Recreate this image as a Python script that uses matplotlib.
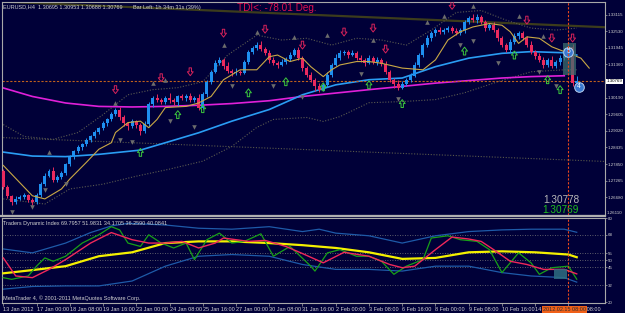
import numpy as np
import matplotlib.pyplot as plt
from matplotlib.path import Path
from matplotlib.lines import Line2D

plt.rcParams['font.family'] = ['Liberation Sans Narrow', 'Liberation Sans', 'DejaVu Sans']

# ---------------- price data, EURUSD H4 ----------------
first_open = 1.2760
closes = [1.2704, 1.2672, 1.2651, 1.2662, 1.2669, 1.2676, 1.2658, 1.2651, 1.2676, 1.2715,
          1.2743, 1.2760, 1.2729, 1.2739, 1.2753, 1.2784, 1.2809, 1.2830, 1.2844, 1.2854,
          1.2868, 1.2882, 1.2897, 1.2911, 1.2928, 1.2942, 1.2960, 1.2974, 1.2949, 1.2928,
          1.2918, 1.2935, 1.2921, 1.2900, 1.2925, 1.2995, 1.3019, 1.3012, 1.3002, 1.3016,
          1.3009, 1.3002, 1.3023, 1.3016, 1.3026, 1.3012, 1.3019, 1.2984, 1.3030, 1.3075,
          1.3110, 1.3142, 1.3152, 1.3131, 1.3114, 1.3107, 1.3110, 1.3107, 1.3145, 1.3180,
          1.3194, 1.3205, 1.3191, 1.3177, 1.3152, 1.3142, 1.3135, 1.3145, 1.3156, 1.3170,
          1.3187, 1.3159, 1.3124, 1.3100, 1.3082, 1.3061, 1.3047, 1.3065, 1.3100, 1.3135,
          1.3159, 1.3177, 1.3180, 1.3170, 1.3177, 1.3159, 1.3152, 1.3142, 1.3159, 1.3145,
          1.3152, 1.3138, 1.3110, 1.3082, 1.3068, 1.3054, 1.3068, 1.3082, 1.3096, 1.3135,
          1.3170, 1.3205, 1.3229, 1.3247, 1.3257, 1.3250, 1.3257, 1.3264, 1.3254, 1.3247,
          1.3257, 1.3285, 1.3299, 1.3292, 1.3302, 1.3285, 1.3264, 1.3274, 1.3257, 1.3229,
          1.3205, 1.3187, 1.3215, 1.3236, 1.3247, 1.3229, 1.3205, 1.3180, 1.3166, 1.3152,
          1.3135, 1.3152, 1.3131, 1.3145, 1.3159, 1.3187, 1.3197, 1.30695, 1.30769]
upper_wick = [6, 8, 5, 9, 6, 7, 5, 8, 6, 5,
              10, 8, 14, 6, 7, 5, 9, 6, 8, 5,
              7, 6, 9, 5, 8, 6, 10, 7, 12, 8,
              6, 10, 5, 8, 12, 9, 6, 12, 7, 9,
              18, 8, 6, 10, 7, 9, 6, 12, 8, 7,
              6, 9, 10, 8, 12, 6, 14, 7, 5, 8,
              6, 10, 12, 7, 8, 9, 6, 11, 7, 8,
              6, 10, 8, 7, 9, 5, 8, 6, 10, 7,
              12, 9, 8, 7, 10, 6, 9, 8, 11, 7,
              9, 6, 10, 8, 7, 12, 9, 6, 8, 10,
              7, 6, 12, 8, 9, 10, 7, 8, 6, 12,
              9, 7, 8, 15, 10, 8, 6, 9, 11, 7,
              8, 6, 10, 9, 7, 8, 6, 12, 8, 9,
              10, 7, 12, 8, 9, 6, 18, 10, 18]
lower_wick = [8, 6, 10, 7, 5, 9, 6, 12, 7, 6,
              8, 5, 9, 7, 6, 8, 5, 7, 6, 9,
              5, 7, 6, 8, 5, 9, 6, 7, 8, 10,
              12, 6, 9, 14, 7, 6, 8, 10, 7, 6,
              9, 8, 12, 6, 8, 7, 10, 9, 6, 8,
              7, 6, 8, 10, 9, 12, 7, 8, 6, 7,
              8, 6, 9, 7, 10, 8, 12, 6, 7, 9,
              6, 8, 10, 7, 9, 18, 8, 6, 7, 9,
              6, 8, 7, 10, 6, 9, 8, 12, 6, 7,
              10, 6, 9, 8, 14, 7, 6, 8, 9, 6,
              8, 7, 6, 9, 10, 7, 8, 6, 9, 7,
              8, 10, 6, 7, 9, 8, 10, 7, 8, 12,
              9, 7, 6, 8, 10, 7, 9, 8, 10, 7,
              12, 8, 9, 7, 10, 8, 9, 10, 1]

# moving averages on the price chart (bar index, price)
fast_idx = [0, 7, 10, 14, 16, 20, 23, 26, 27, 30, 33, 35, 37, 39, 44, 47, 50, 53, 57, 61, 64, 66, 69,
            72, 74, 77, 79, 81, 85, 88, 91, 96, 101, 104, 107, 110, 113, 117, 120, 122, 124, 126,
            129, 132, 135, 139, 141]
fast_ma = [1.2780, 1.2673, 1.2662, 1.2697, 1.2732, 1.2791, 1.2837, 1.2860, 1.2896, 1.2931, 1.2936,
           1.2913, 1.2942, 1.2984, 1.2988, 1.3000, 1.3023, 1.3082, 1.3117, 1.3117, 1.3163, 1.3169,
           1.3146, 1.3158, 1.3128, 1.3093, 1.3117, 1.3134, 1.3146, 1.3146, 1.3140, 1.3123, 1.3117,
           1.3152, 1.3222, 1.3251, 1.3268, 1.3280, 1.3274, 1.3251, 1.3210, 1.3233, 1.3228, 1.3198,
           1.3181, 1.3158, 1.3123]
blue_idx = [0, 7, 15, 23, 33, 39, 47, 55, 64, 72, 80, 88, 96, 104, 112, 120, 127, 135, 138]
blue_ma = [1.2827, 1.2813, 1.2811, 1.2819, 1.2834, 1.2860, 1.2895, 1.2936, 1.2977, 1.3029,
           1.3064, 1.3082, 1.3088, 1.3128, 1.3158, 1.3175, 1.3181, 1.3177, 1.3169]
mag_idx = [0, 7, 15, 23, 31, 39, 47, 55, 64, 72, 88, 104, 120, 127, 135]
mag_ma = [1.3053, 1.3023, 1.3000, 1.2988, 1.2986, 1.2988, 1.2992, 1.2998, 1.3008, 1.3023,
          1.3047, 1.3070, 1.3088, 1.3093, 1.3096]
up_band_idx = [0, 5, 12, 18, 24, 30, 36, 42, 48, 54, 61, 67, 73, 79, 85, 91, 97, 103, 109,
               115, 121, 127, 133, 138]
up_band = [1.2924, 1.2882, 1.2872, 1.2896, 1.2959, 1.3029, 1.3047, 1.3054, 1.3075, 1.3169,
           1.3239, 1.3222, 1.3228, 1.3204, 1.3228, 1.3222, 1.3204, 1.3257, 1.3319, 1.3326,
           1.3292, 1.3264, 1.3257, 1.3264]
lo_band_idx = [0, 10, 16, 24, 32, 40, 48, 55, 61, 65, 73, 77, 81, 88, 96, 104, 111, 119,
               127, 135, 138]
lo_band = [1.2662, 1.2644, 1.2697, 1.2714, 1.2742, 1.2767, 1.2795, 1.2847, 1.2914, 1.2942,
           1.2949, 1.2935, 1.2952, 1.3001, 1.3005, 1.3012, 1.3036, 1.3075, 1.3110, 1.3117, 1.3117]
trend_idx = [0, 144.8]
trend_dotted = [1.2878, 1.2794]
trend_solid = [1.3357, 1.3267]

# fractal / signal arrows (bar index, price)
tri_up = [(11, 1.2826), (27, 1.3001), (36, 1.3071), (39, 1.3082), (53, 1.3204), (61, 1.3250),
          (70, 1.3232), (78, 1.3239), (89, 1.3222), (102, 1.3285), (106, 1.3306), (113, 1.3341),
          (124, 1.3306), (130, 1.3236)]
tri_down = [(2, 1.2616), (7, 1.2634), (10, 1.2693), (15, 1.2714), (28, 1.2868), (31, 1.2861),
            (40, 1.2935), (46, 1.2914), (55, 1.3061), (65, 1.3061), (72, 1.3022), (86, 1.3103),
            (95, 1.3015), (110, 1.3204), (113, 1.3218), (119, 1.3141), (129, 1.3110), (133, 1.3061)]
sell_arrows = [(27, 1.3047), (38, 1.3089), (45, 1.3110), (53, 1.3246), (63, 1.3260), (72, 1.3204),
               (82, 1.3250), (89, 1.3264), (92, 1.3190), (108, 1.3344), (126, 1.3292),
               (132, 1.3229), (137, 1.3229)]
buy_arrows = [(33, 1.2826), (42, 1.2959), (48, 1.2980), (59, 1.3036), (68, 1.3075), (77, 1.3057),
              (88, 1.3064), (96, 1.2998), (111, 1.3183), (123, 1.3169), (131, 1.3082), (134, 1.3047)]
wave_labels = [("5", 136, 1.3180), ("4", 138.6, 1.3057)]

# ---------------- Traders Dynamic Index ----------------
tdi_yel_idx = [0, 7, 15, 23, 31, 39, 47, 55, 64, 72, 80, 88, 96, 104, 112, 120, 128, 136, 138]
tdi_yellow = [40.5, 42.8, 45.6, 52.7, 55.5, 62.1, 63.3, 63.3, 62.1, 60.6, 58.6, 55.5, 50.8,
              51.5, 55.5, 56.2, 55.5, 53.9, 52.0]
tdi_red_idx = [0, 3, 7, 11, 15, 21, 26, 31, 35, 39, 43, 47, 51, 53, 59, 63, 68, 72, 77, 82, 88,
               93, 96, 99, 104, 108, 112, 115, 118, 122, 126, 130, 135, 138]
tdi_red = [51.5, 38.6, 37.4, 43.3, 50.3, 62.1, 69.6, 64.5, 62.1, 62.1, 63.3, 58.6, 62.1, 65.7,
           63.3, 64.0, 59.7, 54.6, 48.0, 55.5, 52.7, 46.8, 44.5, 45.6, 57.4, 66.4, 65.0, 63.3,
           57.4, 49.1, 46.8, 43.3, 43.3, 40.1]
tdi_grn_idx = [0, 2, 6, 8, 10, 12, 15, 19, 23, 26, 28, 30, 33, 35, 38, 41, 44, 46, 49, 52, 55,
               58, 62, 65, 69, 74, 75, 78, 81, 85, 88, 91, 94, 97, 101, 103, 107, 110, 114, 117,
               120, 124, 127, 129, 132, 136, 138]
tdi_green = [37.4, 36.2, 38.6, 45.6, 51.5, 49.1, 52.7, 62.1, 68.0, 73.8, 71.5, 62.1, 59.7, 68.0,
             62.1, 58.6, 62.1, 50.3, 64.5, 69.2, 62.1, 63.3, 68.7, 52.7, 59.7, 45.6, 42.1, 55.1,
             57.4, 52.7, 52.7, 49.1, 39.8, 45.6, 50.3, 65.7, 67.3, 64.5, 63.3, 57.4, 41.0, 55.1,
             48.0, 39.8, 44.5, 45.6, 36.3]
tdi_up_idx = [0, 7, 15, 21, 26, 30, 39, 47, 55, 64, 72, 76, 80, 88, 96, 104, 112, 120, 127, 135, 138]
tdi_upper = [57.9, 55.1, 62.1, 69.6, 74.3, 76.2, 75.0, 72.7, 72.0, 73.8, 70.3, 72.0, 69.2, 67.3,
             62.1, 67.3, 70.3, 71.5, 72.0, 72.0, 69.8]
tdi_lo_idx = [0, 7, 15, 23, 31, 39, 47, 55, 64, 72, 80, 88, 96, 104, 112, 120, 127, 135, 138]
tdi_lower = [29.2, 31.1, 31.5, 31.5, 35.0, 45.6, 52.7, 53.9, 52.7, 46.8, 43.3, 43.3, 42.1, 45.6,
             45.6, 41.0, 38.6, 37.4, 34.2]
tdi_levels = [68, 55, 50, 45, 32]
tdi_ticks = [80, 68, 55, 50, 45, 32, 20]

price_ticks = [1.33115, 1.32530, 1.31945, 1.31360, 1.30190, 1.29605, 1.29020,
               1.28435, 1.27850, 1.27265, 1.26680]
date_labels = ["13 Jan 2012", "17 Jan 00:00", "18 Jan 08:00", "19 Jan 16:00", "23 Jan 00:00",
               "24 Jan 08:00", "25 Jan 16:00", "27 Jan 00:00", "30 Jan 08:00", "31 Jan 16:00",
               "2 Feb 00:00", "3 Feb 08:00", "6 Feb 16:00", "8 Feb 00:00", "9 Feb 08:00",
               "10 Feb 16:00", "14 Feb 00:00", "15 Feb 08:00"]
cross_bar = 136
cross_price = 1.30769

BG = '#000038'
BULL = '#1e8ff0'
BEAR = '#ea2a5e'
TXT = '#d0d0d0'
FS = 4.0
FSR = 3.2

closes = np.array(closes)
opens = np.concatenate([[first_open], closes[:-1]])
highs = np.maximum(opens, closes) + np.array(upper_wick) * 1e-4
lows = np.minimum(opens, closes) - np.array(lower_wick) * 1e-4
bars = np.arange(len(closes))
bull = closes >= opens

fig = plt.figure(figsize=(6.25, 3.13), dpi=100, facecolor=BG)
ax = fig.add_axes([2 / 625, 1 - 215 / 313, 603 / 625, 213 / 313], facecolor=BG)
ax2 = fig.add_axes([2 / 625, 1 - 303 / 313, 603 / 625, 85 / 313], facecolor=BG)

for a in (ax, ax2):
    a.set_xlim(-0.31, 144.8)
    for s in a.spines.values():
        s.set_color('#a8a8a8')
        s.set_linewidth(0.8)
    a.yaxis.tick_right()
    a.tick_params(axis='y', colors='#a8a8a8', labelcolor=TXT, labelsize=FSR,
                  length=1.5, width=0.5, pad=0.5)

# ---- main chart ----
ax.set_ylim(1.26053, 1.33559)
ax.set_xticks([])
ax.set_yticks(price_ticks)
ax.set_yticklabels([f"{p:.5f}" for p in price_ticks])

ax.plot(trend_idx, trend_solid, color='#3c3c1c', lw=1.6, zorder=1)
ax.plot(trend_idx, trend_dotted, color='#58584a', lw=0.8, ls=(0, (1, 1.5)), zorder=1)
ax.plot(up_band_idx, up_band, color='#5a5a50', lw=0.8, ls=(0, (1, 1.5)), zorder=1)
ax.plot(lo_band_idx, lo_band, color='#5a5a50', lw=0.8, ls=(0, (1, 1.5)), zorder=1)
ax.plot(mag_idx, mag_ma, color='#e020d8', lw=1.2, zorder=2)
ax.plot(blue_idx, blue_ma, color='#2a9df4', lw=1.2, zorder=2)

cols = np.where(bull, BULL, BEAR)
ax.vlines(bars, lows, highs, colors=cols, lw=0.7, zorder=3)
body_lo = np.minimum(opens, closes)
body_h = np.maximum(np.abs(closes - opens), 0.00008)
ax.bar(bars, body_h, bottom=body_lo, width=0.72, color=cols, linewidth=0, zorder=3)

ax.plot(fast_idx, fast_ma, color='#c9a845', lw=0.8, zorder=4)

# arrows and fractals
down_arrow = Path([(-0.3, 1), (0.3, 1), (0.3, 0), (0.75, 0), (0, -1), (-0.75, 0), (-0.3, 0), (-0.3, 1)],
                  closed=True)
up_arrow = Path([(-0.3, -1), (0.3, -1), (0.3, 0), (0.75, 0), (0, 1), (-0.75, 0), (-0.3, 0), (-0.3, -1)],
                closed=True)
ax.scatter([p[0] for p in tri_up], [p[1] for p in tri_up], marker='^', s=11, color='#6c6c6c',
           linewidths=0, zorder=5)
ax.scatter([p[0] for p in tri_down], [p[1] for p in tri_down], marker='v', s=11, color='#6c6c6c',
           linewidths=0, zorder=5)
ax.scatter([p[0] for p in sell_arrows], [p[1] for p in sell_arrows], marker=down_arrow, s=32,
           facecolors='none', edgecolors='#d8225a', linewidths=0.7, zorder=5)
ax.scatter([p[0] for p in buy_arrows], [p[1] for p in buy_arrows], marker=up_arrow, s=32,
           facecolors='none', edgecolors='#3cc83c', linewidths=0.7, zorder=5)

ax.add_patch(plt.Rectangle((134.6, 1.3099), 3.2, 0.0112, facecolor='#3c6e6e', alpha=0.75,
                           edgecolor='none', zorder=6))
for lab, bx, by in wave_labels:
    ax.scatter([bx], [by], s=48, color='#3a78d0', edgecolors='#b8d0f0', linewidths=0.7, zorder=7)
    ax.text(bx, by, lab, color='white', fontsize=4.8, ha='center', va='center', zorder=8)

# crosshair
ax.axhline(cross_price, color='#c0601c', lw=0.8, ls=(0, (2, 1.5)), zorder=2)
ax.axvline(cross_bar, color='#e8481c', lw=0.8, ls=(0, (2, 1.5)), zorder=8)
ax2.axvline(cross_bar, color='#e8481c', lw=0.8, ls=(0, (2, 1.5)), zorder=8)
ax.text(1.002, cross_price, f"{cross_price:.5f}", transform=ax.get_yaxis_transform(),
        fontsize=FSR, color='black', va='center', ha='left',
        bbox=dict(boxstyle='square,pad=0.1', facecolor='white', edgecolor='none'))
ax.text(1.003, 1.26110, "1.26110", transform=ax.get_yaxis_transform(), fontsize=FSR,
        color=TXT, va='center', ha='left')

ax.text(0.002, 0.988, "EURUSD,H4  1.30695 1.30953 1.30688 1.30769", transform=ax.transAxes,
        fontsize=FS, color=TXT, va='top', ha='left')
ax.text(0.218, 0.988, "Bar Left: 1h 34m 31s (39%)", transform=ax.transAxes,
        fontsize=FS, color=TXT, va='top', ha='left')
ax.text(0.390, 0.996, "TDI<: -78.01 Deg.", transform=ax.transAxes, family='Liberation Sans',
        fontsize=7.2, color='#e01050', va='top', ha='left')
ax.text(0.957, 0.072, "1.30778", transform=ax.transAxes, family='Liberation Sans',
        fontsize=7.2, color='#b8b8b8', va='center', ha='right')
ax.text(0.957, 0.025, "1.30769", transform=ax.transAxes, family='Liberation Sans',
        fontsize=7.2, color='#20c020', va='center', ha='right')

# ---- TDI window ----
ax2.set_ylim(19.3, 80.0)
ax2.set_yticks(tdi_ticks)
ax2.set_yticklabels([str(t) for t in tdi_ticks])
for lv in tdi_levels:
    ax2.axhline(lv, color='#7a7a7a', lw=0.6, ls=(0, (1, 2)), zorder=1)
ax2.plot(tdi_up_idx, tdi_upper, color='#1e5aa8', lw=0.9, zorder=2)
ax2.plot(tdi_lo_idx, tdi_lower, color='#1e5aa8', lw=0.9, zorder=2)
ax2.plot(tdi_yel_idx, tdi_yellow, color='#f4f000', lw=1.6, zorder=3)
ax2.plot(tdi_grn_idx, tdi_green, color='#18a018', lw=0.9, zorder=4)
ax2.plot(tdi_red_idx, tdi_red, color='#f0285a', lw=1.0, zorder=5)
ax2.add_patch(plt.Rectangle((132.6, 36.3), 3.1, 7.5, facecolor='#2e6e82', alpha=0.85,
                            edgecolor='none', zorder=6))

ax2.text(0.002, 0.97, "Traders Dynamic Index 69.7957 51.9831 34.1705 36.2590 40.0841",
         transform=ax2.transAxes, fontsize=FS, color=TXT, va='top', ha='left')
ax2.text(0.002, 0.02, "MetaTrader 4, \u00a9 2001-2011 MetaQuotes Software Corp.",
         transform=ax2.transAxes, fontsize=FS, color=TXT, va='bottom', ha='left')

ax2.set_xticks(np.arange(len(date_labels)) * 8)
ax2.set_xticklabels(date_labels, ha='left')
ax2.tick_params(axis='x', colors='#a8a8a8', labelcolor=TXT, labelsize=FS, length=2,
                width=0.5, pad=1.2)
ax2.text(cross_bar - 1.0, -0.075, "2012.02.15 08:00", transform=ax2.get_xaxis_transform(),
         fontsize=FS, color='#303030', ha='center', va='center', zorder=9,
         bbox=dict(boxstyle='square,pad=0.15', facecolor='#f06018', edgecolor='none'))

# separator between the windows
fig.add_artist(Line2D([0, 605 / 625], [1 - 216 / 313] * 2, color='#b0b0b0', lw=1.6))

fig.savefig('out.png', dpi=100, facecolor=BG)
